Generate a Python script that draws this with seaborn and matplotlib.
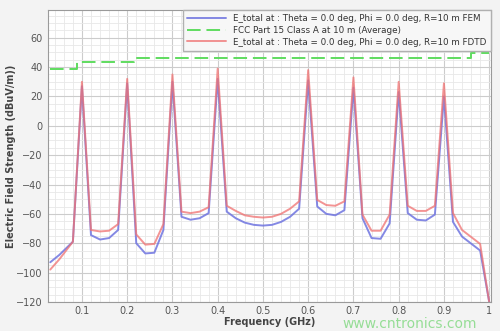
import matplotlib
matplotlib.use("Agg")
import matplotlib.pyplot as plt
import seaborn as sns
import numpy as np
import pandas as pd
from matplotlib.ticker import MultipleLocator, FixedLocator

# ---- data ----
freq = [0.03, 0.05, 0.08, 0.10, 0.12, 0.14, 0.16, 0.18, 0.20,
        0.22, 0.24, 0.26, 0.28, 0.30, 0.32, 0.34, 0.36, 0.38, 0.40,
        0.42, 0.44, 0.46, 0.48, 0.50, 0.52, 0.54, 0.56, 0.58, 0.60,
        0.62, 0.64, 0.66, 0.68, 0.70, 0.72, 0.74, 0.76, 0.78, 0.80,
        0.82, 0.84, 0.86, 0.88, 0.90, 0.92, 0.94, 0.98, 1.00]
fem = [-93, -88, -79, 27, -74.5, -77.5, -76.5, -71, 29,
       -80, -87, -86.5, -71, 30, -62, -64, -63, -59.5, 32,
       -58.5, -63, -66, -67.5, -68, -67.5, -65.5, -62, -56.5, 31,
       -55, -60, -61, -57.5, 26, -63, -76.5, -77, -66.5, 23,
       -59.5, -64, -64.5, -60.5, 20, -65.5, -75.5, -85, -120]
fdtd = [-98, -91, -79, 30, -71, -72, -71.5, -67, 32,
        -74, -81, -80.5, -67, 35, -58.5, -59.5, -58.5, -55.5, 39,
        -54.5, -58, -61, -62, -62.5, -62, -60, -56.5, -51.5, 38,
        -50.5, -54, -54.5, -51.5, 33, -60.5, -71.5, -71.5, -60.5, 30,
        -54.5, -58, -58, -54.5, 29, -59.5, -71, -80.5, -120]
fcc_freq = [0.03, 0.088, 0.216, 0.96, 1.00]
fcc_limit = [39.0, 43.5, 46.4, 49.5, 49.5]

xticks = [0.1, 0.2, 0.3, 0.4, 0.5, 0.6, 0.7, 0.8, 0.9, 1.0]
xtick_labels = ["0.1", "0.2", "0.3", "0.4", "0.5", "0.6", "0.7", "0.8", "0.9", "1"]
yticks = [-120, -100, -80, -60, -40, -20, 0, 20, 40, 60]

lab_fem = "E_total at : Theta = 0.0 deg, Phi = 0.0 deg, R=10 m FEM"
lab_fcc = "FCC Part 15 Class A at 10 m (Average)"
lab_fdtd = "E_total at : Theta = 0.0 deg, Phi = 0.0 deg, R=10 m FDTD"

df = pd.DataFrame({"f": freq, "fem": fem, "fdtd": fdtd})
dfc = pd.DataFrame({"f": fcc_freq, "lim": fcc_limit})

sns.set_theme(style="white")
plt.rcParams['font.family'] = ['DejaVu Sans']

fig = plt.figure(figsize=(5.0, 3.31), dpi=100, facecolor="#f3f3f3")
ax = fig.add_axes([0.096, 0.088, 0.886, 0.882])
ax.set_facecolor("white")

sns.lineplot(data=df, x="f", y="fem", ax=ax, color="#6f74e0", lw=1.4,
             alpha=0.85, label=lab_fem)
sns.lineplot(data=dfc, x="f", y="lim", ax=ax, color="#5fdc5f", lw=1.4,
             drawstyle="steps-post", dashes=False, label=lab_fcc,
             linestyle=(0, (7, 3)))
sns.lineplot(data=df, x="f", y="fdtd", ax=ax, color="#f07070", lw=1.4,
             alpha=0.75, label=lab_fdtd)

ax.set_xlim(0.025, 1.004)
ax.set_ylim(-120, 79)
ax.xaxis.set_major_locator(FixedLocator(xticks))
ax.set_xticklabels(xtick_labels)
ax.yaxis.set_major_locator(FixedLocator(yticks))
ax.xaxis.set_minor_locator(MultipleLocator(0.02))
ax.yaxis.set_minor_locator(MultipleLocator(5))
ax.grid(which="major", color="#cccccc", lw=0.8)
ax.grid(which="minor", color="#e8e8e8", lw=0.6)
ax.set_axisbelow(True)
ax.tick_params(which="both", length=0, labelsize=7, labelcolor="#555555", pad=4)
ax.tick_params(axis="x", pad=3)
for s in ax.spines.values():
    s.set_color("#9a9a9a")
    s.set_linewidth(0.8)

ax.set_xlabel("Frequency (GHz)", fontsize=7, color="#444444", fontweight="bold", labelpad=1)
ax.set_ylabel("Electric Field Strength (dBuV/m))", fontsize=7, color="#444444",
              fontweight="bold")
ax.yaxis.set_label_coords(-0.072, 0.5)

leg = ax.legend(loc="upper right", fontsize=6.3, frameon=True, fancybox=False,
                borderaxespad=0.0, handlelength=4.5, labelspacing=0.3,
                borderpad=0.5)
leg.get_frame().set_edgecolor("#b0b0b0")
leg.get_frame().set_facecolor("#f7f7f7")
leg.get_frame().set_alpha(1)
for t in leg.get_texts():
    t.set_color("#333333")

fig.text(0.82, 0.008, "www.cntronics.com", color="#7fd87f", fontsize=10,
         ha="center", va="baseline", alpha=0.8)

fig.savefig("out.png", dpi=100, facecolor=fig.get_facecolor())
